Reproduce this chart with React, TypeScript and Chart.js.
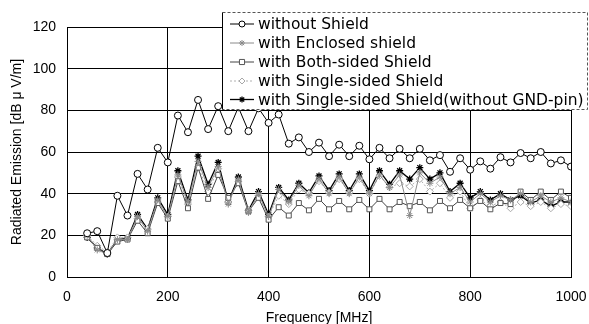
import React, { useEffect, useRef } from "react";
import { Chart, registerables } from "chart.js";

Chart.register(...registerables);

const frequencies = [
  40, 60, 80, 100, 120, 140, 160, 180, 200, 220, 240, 260, 280, 300, 320, 340, 360, 380, 400, 420,
  440, 460, 480, 500, 520, 540, 560, 580, 600, 620, 640, 660, 680, 700, 720, 740, 760, 780, 800, 820,
  840, 860, 880, 900, 920, 940, 960, 980, 1000,
];

const withoutShield = [
  21, 22, 11.5, 39, 29.5, 49.5, 42, 62, 55, 77.5, 69.5, 85, 71, 82, 70, 81.5, 70, 81, 74, 78,
  64, 67, 60, 64.5, 58, 63.5, 58, 63, 56.5, 62, 57, 61.5, 57, 61.5, 56, 58.5, 50.5, 57, 51.5, 55.5,
  52, 57.5, 55, 59.5, 57, 60, 54.5, 56, 53,
];

const enclosedShield = [
  20, 13, 11, 18, 18, 29, 22, 37, 29, 49, 36, 55.5, 43, 53, 35, 47, 31, 40, 29, 42,
  36, 44, 39, 47, 40, 48, 40, 48, 40, 49, 43, 49, 29.5, 50, 45, 48, 40, 43, 36, 40,
  36, 39, 37, 40, 36, 39, 36, 38, 36,
];

const bothSidedShield = [
  19, 14, 11, 17, 18, 27, 21, 35.5, 28, 46, 33, 52.5, 37.5, 49, 38, 45, 31.5, 38, 27.5, 33.5,
  29.5, 35.5, 32, 37.5, 32.5, 36.5, 32.5, 37, 32.5, 37.5, 32.5, 36, 34, 36, 32, 36.5, 33, 37, 33, 36.5,
  32.5, 35.5, 35, 41, 37, 41, 37, 41, 38,
];

const singleSidedShield = [
  20, 15, 12, 19, 19, 28, 23, 36, 29, 48, 35, 53, 41, 52, 36, 46, 32, 39, 29, 39,
  35, 42, 40, 46, 40.5, 47, 40.5, 47, 40, 48.5, 43, 45, 43.5, 47, 41, 45, 38, 41, 33, 37,
  34, 36, 33, 36, 34, 36, 33, 35, 34,
];

const singleSidedNoGnd = [
  19, 14, 11, 18, 18.5, 30, 23, 38, 30, 51, 37, 58, 44.5, 55, 36, 48, 32, 41, 30, 43,
  37, 45, 40.5, 48.5, 41.5, 49.5, 41.5, 49.5, 41.5, 51, 44.5, 51, 47, 52.5, 47, 50, 41, 45, 38, 41,
  37, 40, 37, 39, 35.5, 37, 34, 36, 36,
];

const seriesLabels = [
  "without Shield",
  "with Enclosed shield",
  "with Both-sided Shield",
  "with Single-sided Shield",
  "with Single-sided Shield(without GND-pin)",
];

const xTickValues = [0, 200, 400, 600, 800, 1000];
const yTickValues = [0, 20, 40, 60, 80, 100, 120];

type Style = {
  point: string;
  line: string;
  fill: string;
  stroke: string;
  lw: number;
  dash: number[];
  r: number;
};

const styles: Style[] = [
  { point: "circle", line: "#000000", fill: "#ffffff", stroke: "#000000", lw: 1, dash: [], r: 3.5 },
  { point: "star", line: "#8a8a8a", fill: "#8a8a8a", stroke: "#8a8a8a", lw: 1, dash: [], r: 3.5 },
  { point: "rect", line: "#444444", fill: "#ffffff", stroke: "#555555", lw: 1, dash: [], r: 3.5 },
  { point: "rectRot", line: "#b0b0b0", fill: "#ffffff", stroke: "#a8a8a8", lw: 1, dash: [2, 2], r: 3.5 },
  { point: "star", line: "#000000", fill: "#000000", stroke: "#000000", lw: 1.3, dash: [], r: 3.5 },
];

const seriesValues = [withoutShield, enclosedShield, bothSidedShield, singleSidedShield, singleSidedNoGnd];

const FONT_FAMILY = "'DejaVu Sans', 'Liberation Sans', Arial, sans-serif";

function drawMarker(ctx: CanvasRenderingContext2D, s: Style, x: number, y: number, r: number) {
  ctx.save();
  ctx.setLineDash([]);
  ctx.lineWidth = s.lw;
  ctx.strokeStyle = s.stroke;
  ctx.fillStyle = s.fill;
  ctx.beginPath();
  if (s.point === "circle") {
    ctx.arc(x, y, r, 0, Math.PI * 2);
    ctx.fill();
    ctx.stroke();
  } else if (s.point === "rect") {
    const h = r * 0.85;
    ctx.rect(x - h, y - h, 2 * h, 2 * h);
    ctx.fill();
    ctx.stroke();
  } else if (s.point === "rectRot") {
    ctx.moveTo(x, y - r);
    ctx.lineTo(x + r, y);
    ctx.lineTo(x, y + r);
    ctx.lineTo(x - r, y);
    ctx.closePath();
    ctx.fill();
    ctx.stroke();
  } else {
    for (let k = 0; k < 4; k++) {
      const a = (k * Math.PI) / 4;
      ctx.moveTo(x - r * Math.cos(a), y - r * Math.sin(a));
      ctx.lineTo(x + r * Math.cos(a), y + r * Math.sin(a));
    }
    ctx.stroke();
  }
  ctx.restore();
}

const legendPlugin = {
  id: "boxLegend",
  afterDraw(chart: any) {
    const ctx: CanvasRenderingContext2D = chart.ctx;
    const left = 222;
    const top = 12;
    const right = 588;
    const bottom = 110;
    ctx.save();
    ctx.fillStyle = "#ffffff";
    ctx.fillRect(left, top, right - left, bottom - top);
    ctx.strokeStyle = "#555555";
    ctx.lineWidth = 1;
    ctx.setLineDash([3, 2]);
    ctx.beginPath();
    ctx.moveTo(left + 0.5, top + 0.5);
    ctx.lineTo(right - 0.5, top + 0.5);
    ctx.lineTo(right - 0.5, bottom - 0.5);
    ctx.lineTo(left + 0.5, bottom - 0.5);
    ctx.stroke();
    ctx.setLineDash([]);
    ctx.strokeStyle = "#000000";
    ctx.beginPath();
    ctx.moveTo(left + 0.5, top + 0.5);
    ctx.lineTo(left + 0.5, bottom - 0.5);
    ctx.stroke();
    let size = 15;
    ctx.font = `${size}px ${FONT_FAMILY}`;
    const longest = Math.max(...seriesLabels.map((l) => ctx.measureText(l).width));
    size = Math.min(17, (size * 326) / longest);
    ctx.font = `${size}px ${FONT_FAMILY}`;
    ctx.textBaseline = "middle";
    ctx.textAlign = "left";
    const rowY = [24, 43, 62, 81, 99.5];
    seriesLabels.forEach((label, i) => {
      const s = styles[i];
      const y = rowY[i];
      ctx.save();
      ctx.strokeStyle = s.line;
      ctx.lineWidth = s.lw;
      ctx.setLineDash(s.dash);
      ctx.beginPath();
      ctx.moveTo(230, y);
      ctx.lineTo(254, y);
      ctx.stroke();
      ctx.restore();
      drawMarker(ctx, s, 242, y, 3);
      ctx.fillStyle = "#000000";
      ctx.fillText(label, 258, y + 1);
    });
    ctx.restore();
  },
};

export default function App() {
  const canvasRef = useRef<HTMLCanvasElement | null>(null);

  useEffect(() => {
    const canvas = canvasRef.current;
    if (!canvas) return;
    const datasets = seriesLabels.map((label, i) => {
      const s = styles[i];
      return {
        label,
        data: frequencies.map((f, j) => ({ x: f, y: seriesValues[i][j] })),
        borderColor: s.line,
        borderWidth: s.lw,
        borderDash: s.dash,
        pointStyle: s.point,
        pointRadius: s.r,
        pointBackgroundColor: s.fill,
        pointBorderColor: s.stroke,
        pointBorderWidth: s.lw,
        tension: 0,
        fill: false,
      };
    });
    const tickFont = { family: "'Liberation Sans', Arial, sans-serif", size: 14 };
    const chart = new Chart(canvas, {
      type: "line",
      data: { datasets },
      options: {
        animation: false,
        responsive: false,
        maintainAspectRatio: false,
        layout: { padding: { top: 27, right: 18, left: 0, bottom: 0 } },
        plugins: { legend: { display: false }, tooltip: { enabled: false } },
        scales: {
          x: {
            type: "linear",
            min: 0,
            max: 1000,
            afterBuildTicks: (scale: any) => {
              scale.ticks = xTickValues.map((v) => ({ value: v }));
            },
            afterFit: (scale: any) => {
              scale.height = 47;
              scale.paddingLeft = 0;
              scale.paddingRight = 0;
            },
            grid: { color: "#000000", lineWidth: 1, drawTicks: false },
            border: { display: true, color: "#000000", width: 1 },
            ticks: {
              color: "#000000",
              padding: 12,
              maxRotation: 0,
              font: tickFont,
              callback: (v: any) => String(v),
            },
            title: {
              display: true,
              text: "Frequency [MHz]",
              color: "#000000",
              padding: { top: 0, bottom: -3 },
              font: tickFont,
            },
          },
          y: {
            type: "linear",
            min: 0,
            max: 120,
            afterBuildTicks: (scale: any) => {
              scale.ticks = yTickValues.map((v) => ({ value: v }));
            },
            afterFit: (scale: any) => {
              scale.width = 67;
              scale.paddingTop = 0;
              scale.paddingBottom = 0;
            },
            grid: { color: "#000000", lineWidth: 1, drawTicks: false },
            border: { display: true, color: "#000000", width: 1 },
            ticks: {
              color: "#000000",
              padding: 11,
              font: tickFont,
              callback: (v: any) => String(v),
            },
            title: {
              display: true,
              text: "Radiated Emission [dB μ V/m]",
              color: "#000000",
              padding: { top: 9, bottom: 0 },
              font: tickFont,
            },
          },
        },
      },
      plugins: [legendPlugin],
    });
    return () => chart.destroy();
  }, []);

  return (
    <div style={{ position: "fixed", left: 0, top: 0, width: 589, height: 324, background: "#ffffff" }}>
      <canvas ref={canvasRef} width={589} height={324} style={{ width: 589, height: 324, display: "block" }} />
    </div>
  );
}
